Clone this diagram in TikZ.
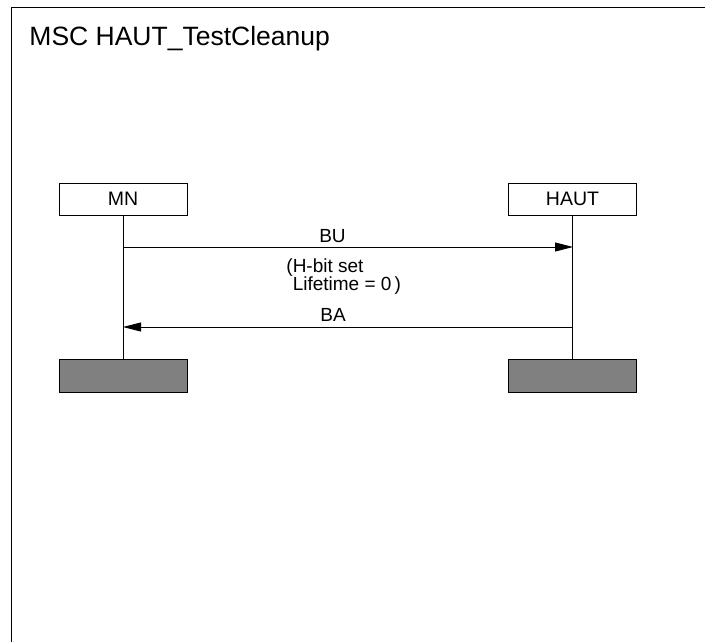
\documentclass[tikz,border=0pt]{standalone}
\usepackage{fontspec}
\setmainfont{Liberation Sans}
\usetikzlibrary{arrows.meta}

\begin{document}
\begin{tikzpicture}[x=1pt,y=-1pt,line width=0.9pt,
  inst node/.style={rectangle,draw,fill=white,minimum width=128pt,minimum height=32pt,
    inner sep=0pt,font=\fontsize{19.5}{19}\selectfont},
  end node/.style={rectangle,draw,fill=gray,minimum width=128pt,minimum height=33pt,inner sep=0pt},
  msg/.style={-{Triangle[length=18pt,width=9pt]}},
  label node/.style={anchor=base,inner sep=0pt,font=\fontsize{19}{18}\selectfont}]

  \useasboundingbox (0,0) rectangle (705,642);
  % frame
  \draw (11,642) -- (11,7) -- (705,7);
  \node[anchor=base west,inner sep=0pt,font=\fontsize{26.5}{30}\selectfont] (title) at (29,46) {MSC HAUT\_TestCleanup};

  \node[inst node] (mn) at (123,199) {MN};
  \node[inst node] (haut) at (572.5,199) {HAUT};
  \node[end node] (mnend) at (123,375.5) {};
  \node[end node] (hautend) at (572.5,375.5) {};

  \coordinate (bu1) at (123,247);
  \coordinate (bu2) at (573,247);
  \coordinate (ba1) at (573,327);
  \coordinate (ba2) at (123,327);

  \draw (mn) -- (mnend);
  \draw (haut) -- (hautend);

  \draw[msg] (bu1) -- (bu2);
  \draw[msg] (ba1) -- (ba2);

  \node[label node] (bu) at (332.5,242) {BU};
  \node[label node,anchor=base west,align=left] (param) at (286,290)
    {(H-bit set\\\phantom{(}Lifetime = 0\,)};
  \node[label node] (ba) at (333,321) {BA};
\end{tikzpicture}
\end{document}
